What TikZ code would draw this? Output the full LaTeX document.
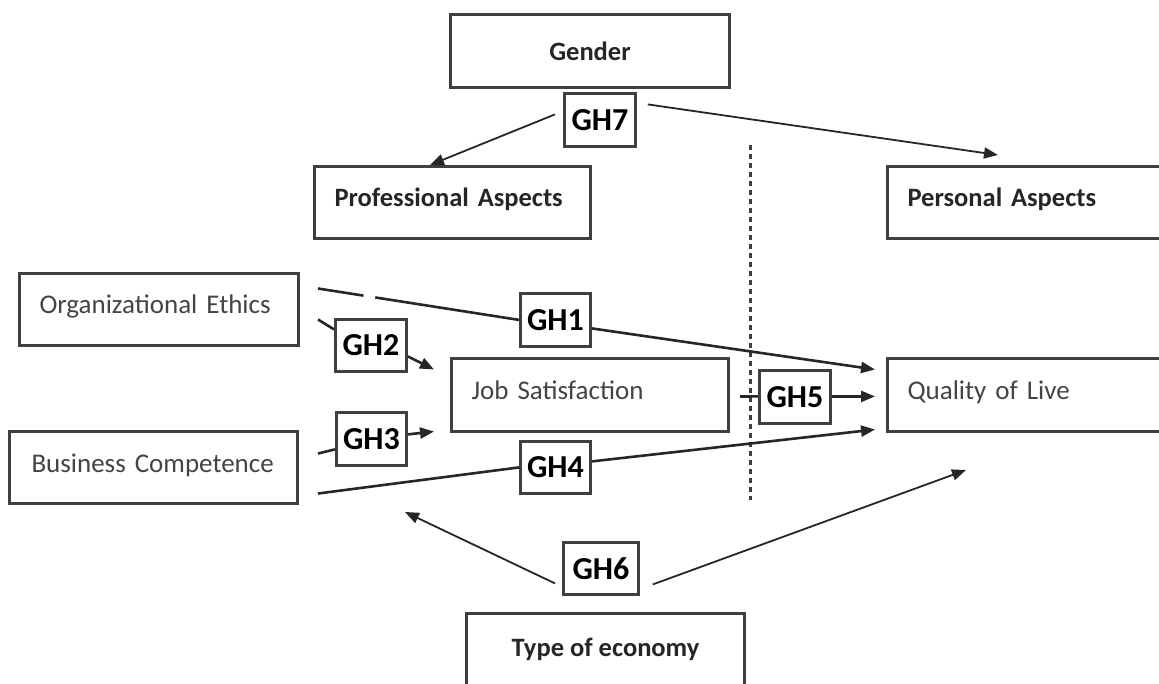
\documentclass[tikz,border=0pt]{standalone}
\usepackage{fontspec}
\setmainfont{Carlito}
\usetikzlibrary{arrows.meta,calc}
\definecolor{frame}{HTML}{404040}
\definecolor{ink}{HTML}{262626}
\definecolor{softink}{HTML}{444444}
\tikzset{
  box/.style={draw=frame, line width=3pt, fill=white, rectangle, anchor=north west,
    inner xsep=20pt, inner ysep=0pt, align=left, text=softink,
    font=\fontsize{27}{30}\selectfont},
  boldbox/.style={box, text=ink, font=\fontsize{26.5}{30}\selectfont\bfseries},
  centerbox/.style={boldbox, align=center, inner xsep=0pt},
  ghbox/.style={draw=frame, line width=2.8pt, fill=white, rectangle, anchor=north west,
    inner sep=0pt, text=black, font=\fontsize{32}{35}\selectfont\bfseries},
  link/.style={draw=ink, line width=2.6pt},
  thinlink/.style={draw=ink, line width=1.8pt},
  tip/.style={-{Triangle[length=14pt,width=11pt]}},
}
\newcommand{\lift}[1]{\raisebox{10pt}{#1}}
\begin{document}
\begin{tikzpicture}[x=1pt,y=-1pt]
\useasboundingbox (0,0) rectangle (1159,683);
\clip (0,0) rectangle (1159,683);

% main variable boxes
\node[centerbox, minimum width=279pt, minimum height=73pt] (gen) at (449,13) {Gender};
\node[boldbox, minimum width=276pt, minimum height=72pt, text width=236pt] (pa) at (313,165) {\lift{Professional Aspects}};
\node[boldbox, minimum width=290pt, minimum height=72pt, text width=250pt] (pe) at (886,165) {\lift{Personal Aspects}};
\node[box, minimum width=279pt, minimum height=72pt, text width=239pt] (oe) at (18,272) {\lift{Organizational Ethics}};
\node[box, minimum width=277pt, minimum height=73pt, text width=237pt] (js) at (450,357) {\lift{Job Satisfaction}};
\node[box, minimum width=290pt, minimum height=73pt, text width=250pt] (ql) at (886,357) {\lift{Quality of Live}};
\node[box, minimum width=288pt, minimum height=72pt, text width=244pt, inner xsep=22pt] (bc) at (8,430) {\raisebox{8pt}{Business Competence}};
\node[centerbox, minimum width=278pt, minimum height=80pt] (te) at (465,612) {\raisebox{12pt}{Type of economy}};

% hypothesis labels
\node[ghbox, minimum width=71pt, minimum height=53pt] (gh7) at (563,92) {GH7};
\node[ghbox, minimum width=70pt, minimum height=53pt] (gh1) at (519,292) {GH1};
\node[ghbox, minimum width=71pt, minimum height=52pt] (gh2) at (334,318) {GH2};
\node[ghbox, minimum width=71pt, minimum height=53pt] (gh5) at (758,369) {GH5};
\node[ghbox, minimum width=70pt, minimum height=53pt] (gh3) at (335,411) {GH3};
\node[ghbox, minimum width=70pt, minimum height=52pt] (gh4) at (519,440) {GH4};
\node[ghbox, minimum width=75pt, minimum height=52pt] (gh6) at (562,541) {GH6};

% dotted separator between professional and personal sides
\draw[draw=frame, line width=3pt, dash pattern=on 5pt off 4pt] (750,145) -- (750,500);

% ethics -> GH1 -> quality of life
\draw[link, dash pattern=on 46pt off 12pt on 1000pt] ($(oe.east)+(18,-21)$) -- (gh1.west);
\draw[link, tip] ($(gh1.east)+(0,8.5)$) -- ($(ql.west)+(-11,-25.5)$);
% ethics -> GH2 -> job satisfaction
\draw[link] ($(oe.east)+(18,10)$) -- ($(gh2.west)+(0,-16)$);
\draw[link, tip] ($(gh2.east)+(0,11)$) -- ($(js.west)+(-16,-25.5)$);
% competence -> GH3 -> job satisfaction
\draw[link] ($(bc.east)+(19,-14)$) -- ($(gh3.west)+(0,10.5)$);
\draw[link, tip] ($(gh3.east)+(0,-4.5)$) -- ($(js.west)+(-16,36.5)$);
% competence -> GH4 -> quality of life
\draw[link] ($(bc.east)+(19,26)$) -- (gh4.west);
\draw[link, tip] ($(gh4.east)+(0,-6)$) -- ($(ql.west)+(-11,34.5)$);
% job satisfaction -> GH5 -> quality of life
\draw[link] ($(js.east)+(10,1.5)$) -- ($(gh5.west)+(0,-0.5)$);
\draw[link, tip] ($(gh5.east)+(0,-0.5)$) -- ($(ql.west|-gh5.east)+(-11,-0.5)$);

% gender moderation
\draw[thinlink, tip] ($(gh7.west)+(-8,-5.5)$) -- ($(pa.north west)+(117,0)$);
\draw[thinlink, tip] ($(gh7.east)+(11,-15.5)$) -- ($(pe.north west)+(112,-10)$);

% type of economy moderation
\coordinate (leftside) at (405,512);
\coordinate (rightside) at (966,470);
\draw[thinlink, tip] ($(gh6.west)+(-7,15)$) -- (leftside);
\draw[thinlink, tip] ($(gh6.east)+(13,16)$) -- (rightside);
\end{tikzpicture}
\end{document}
